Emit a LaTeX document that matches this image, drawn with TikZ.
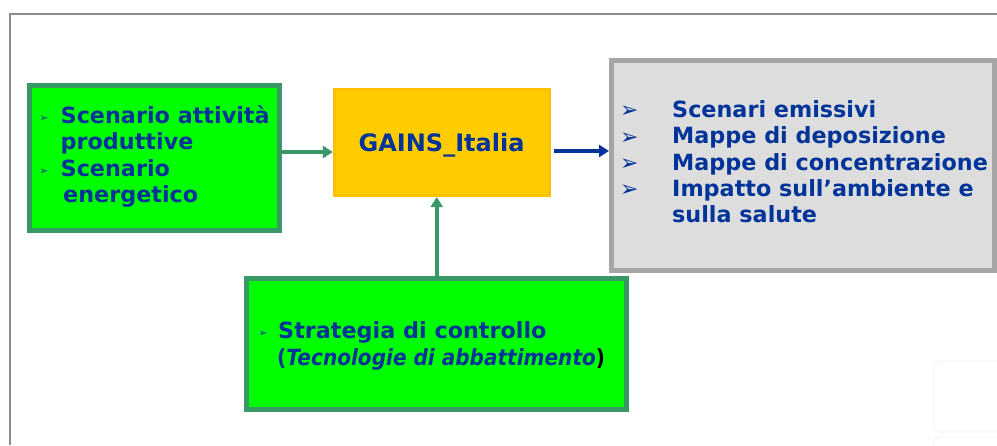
\documentclass[tikz,border=0pt]{standalone}
\usepackage{fontspec}
\usepackage{graphicx}
\setmainfont{DejaVu Sans}
\usetikzlibrary{arrows.meta}
\definecolor{gbord}{HTML}{389966}
\definecolor{gfill}{HTML}{00FF00}
\definecolor{yfill}{HTML}{FFCC00}
\definecolor{ybord}{HTML}{FFC000}
\definecolor{grayfill}{HTML}{DDDDDD}
\definecolor{graybord}{HTML}{A6A6A6}
\definecolor{tblue}{HTML}{003399}
\definecolor{framec}{HTML}{8C8C8C}
\tikzset{
  box/.style={draw, line width=5pt, inner sep=0pt},
  greenbox/.style={box, draw=gbord, fill=gfill},
  yellowbox/.style={box, line width=3pt, draw=ybord, fill=yfill},
  graybox/.style={box, draw=graybord, fill=grayfill},
  txt/.style={inner sep=0pt, anchor=base west, text=tblue, font=\fontsize{22.3}{26}\selectfont\bfseries},
  bul/.style={inner sep=0pt, anchor=base west, text=tblue, font=\fontsize{10.5}{10}\selectfont},
  bigbul/.style={inner sep=0pt, anchor=base west, text=tblue, font=\fontsize{22}{22}\selectfont},
  garrow/.style={draw=gbord, line width=4pt, -{Triangle[length=10pt,width=12pt]}},
  barrow/.style={draw=tblue, line width=4pt, -{Triangle[length=10pt,width=12pt]}}
}
\begin{document}
\begin{tikzpicture}[x=1pt,y=-1pt]
\useasboundingbox (0,0) rectangle (997,445);
% frame
\draw[framec, line width=2pt] (10,445) -- (10,13.5) -- (997,13.5);
% faint shapes bottom right
\draw[gray!12, line width=0.8pt, rounded corners=6pt] (934,361) rectangle (1005,432);
\draw[gray!12, line width=0.8pt, rounded corners=6pt] (934,437) rectangle (1005,460);
% boxes
\node[greenbox, minimum width=250pt, minimum height=145pt] (lbox) at (154.2,157.7) {};
\node[yellowbox, minimum width=215pt, minimum height=106pt] (gains) at (441.9,142.6) {};
\node[graybox, minimum width=383pt, minimum height=210pt] (rbox) at (803,165.3) {};
\node[greenbox, minimum width=380pt, minimum height=131pt] (bbox) at (436.5,343.8) {};
% left box text
\node[bul] (lb1) at (39.5,121) {➢};
\node[txt] (l1) at (60.5,123) {Scenario attività};
\node[txt] (l2) at (60.5,149.5) {produttive};
\node[bul] (lb2) at (39.5,174) {➢};
\node[txt] (l3) at (60.5,176) {Scenario};
\node[txt] (l4) at (63,202.5) {energetico};
% GAINS
\node[txt, font=\fontsize{24}{26}\selectfont\bfseries] (g1) at (358.5,151.5) {GAINS\_Italia};
% right box text
\node[bigbul] (rb1) at (620,117.5) {➢};
\node[txt] (r1) at (672,117) {Scenari emissivi};
\node[bigbul] (rb2) at (620,144) {➢};
\node[txt] (r2) at (672,143.5) {Mappe di deposizione};
\node[bigbul] (rb3) at (620,170.5) {➢};
\node[txt] (r3) at (672,170) {Mappe di concentrazione};
\node[bigbul] (rb4) at (620,196.5) {➢};
\node[txt] (r4) at (672,196) {Impatto sull’ambiente e};
\node[txt] (r5) at (672,222.5) {sulla salute};
% bottom box text
\node[bul] (bb1) at (258.5,336) {➢};
\node[txt] (b1) at (278,338) {Strategia di controllo};
\node[txt] (b2) at (277,365) {\scalebox{0.9}[1]{(\textit{Tecnologie di abbattimento}\textcolor{black}{)}}};
% connectors
\coordinate (ya) at (0,152);
\coordinate (yb) at (0,151);
\coordinate (xv) at (436.7,0);
\draw[garrow] (lbox.east |- ya) -- (gains.west |- ya);
\draw[barrow, shorten <=3pt] (gains.east |- yb) -- (rbox.west |- yb);
\draw[garrow] (bbox.north -| xv) -- (gains.south -| xv);
\end{tikzpicture}
\end{document}
